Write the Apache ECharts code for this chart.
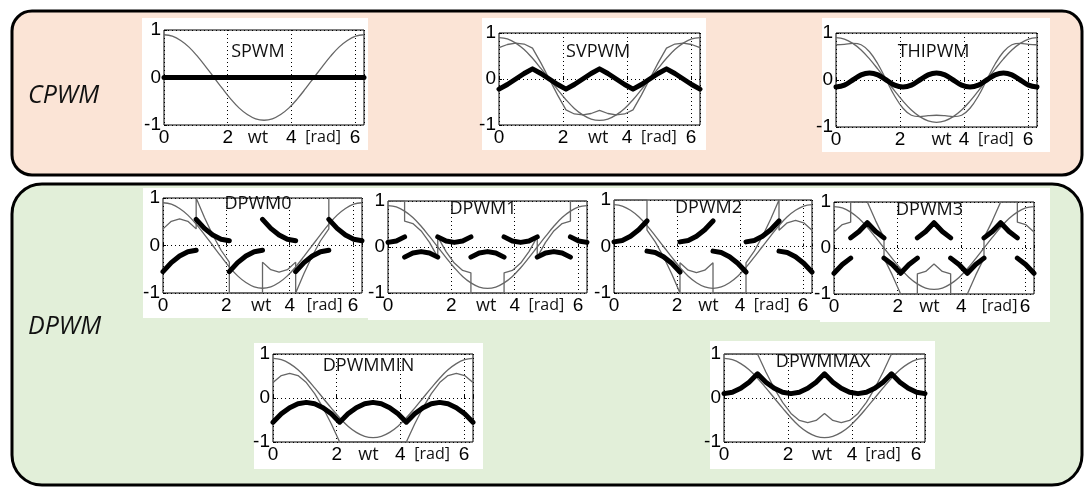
<!DOCTYPE html>
<html>
<head>
<meta charset="utf-8">
<script src="https://cdn.jsdelivr.net/npm/echarts@6/dist/echarts.min.js"></script>
<style>
  html, body { margin: 0; padding: 0; background: #fff; }
  #c { width: 1085px; height: 488px; }
</style>
</head>
<body>
<div id="c"></div>
<script>
// Electrical angle samples (rad), 15 degree steps over one period
const wt = [0, 0.262, 0.524, 0.785, 1.047, 1.309, 1.571, 1.833, 2.094, 2.356, 2.618, 2.880,
            3.142, 3.403, 3.665, 3.927, 4.189, 4.451, 4.712, 4.974, 5.236, 5.498, 5.760, 6.021, 6.283];

// Tick labels
const xTicks = [0, 2, 4, 6];
const yTicks = [-1, 0, 1];

// Phase reference va* (thin grey curve, same in every panel)
const phaseRef = [0.90, 0.87, 0.78, 0.64, 0.45, 0.23, 0, -0.23, -0.45, -0.64, -0.78, -0.87, -0.90,
                  -0.87, -0.78, -0.64, -0.45, -0.23, 0, 0.23, 0.45, 0.64, 0.78, 0.87, 0.90];

// A pair [a, b] marks a jump at that angle: a is reached from the left, b leaves to the right.

// SPWM: no zero-sequence signal
const spwmZero = [0, 0, 0, 0, 0, 0, 0, 0, 0, 0, 0, 0, 0, 0, 0, 0, 0, 0, 0, 0, 0, 0, 0, 0, 0];

// SVPWM
const svpwmZero = [-0.22, -0.12, 0, 0.12, 0.22, 0.12, 0, -0.12, -0.22, -0.12, 0, 0.12, 0.22,
                   0.12, 0, -0.12, -0.22, -0.12, 0, 0.12, 0.22, 0.12, 0, -0.12, -0.22];
const svpwmMod = [0.68, 0.75, 0.78, 0.76, 0.67, 0.35, 0, -0.35, -0.67, -0.76, -0.78, -0.75, -0.68,
                  -0.75, -0.78, -0.76, -0.67, -0.35, 0, 0.35, 0.67, 0.76, 0.78, 0.75, 0.68];

// THIPWM
const thiZero = [-0.15, -0.11, 0, 0.11, 0.15, 0.11, 0, -0.11, -0.15, -0.11, 0, 0.11, 0.15,
                 0.11, 0, -0.11, -0.15, -0.11, 0, 0.11, 0.15, 0.11, 0, -0.11, -0.15];
const thiMod = [0.75, 0.76, 0.78, 0.75, 0.60, 0.34, 0, -0.34, -0.60, -0.75, -0.78, -0.76, -0.75,
                -0.76, -0.78, -0.75, -0.60, -0.34, 0, 0.34, 0.60, 0.75, 0.78, 0.76, 0.75];

// DPWM0
const dpwm0Zero = [-0.55, -0.36, -0.22, -0.13, [-0.10, 0.55], 0.36, 0.22, 0.13, [0.10, -0.55], -0.36, -0.22, -0.13,
                   [-0.10, 0.55], 0.36, 0.22, 0.13, [0.10, -0.55], -0.36, -0.22, -0.13, [-0.10, 0.55], 0.36, 0.22, 0.13, 0.10];
const dpwm0Mod = [0.35, 0.51, 0.56, 0.51, [0.35, 1], 0.59, 0.22, -0.10, [-0.35, -1], -1, -1, -1,
                  [-1, -0.35], -0.51, -0.56, -0.51, [-0.35, -1], -0.59, -0.22, 0.10, [0.35, 1], 1, 1, 1, 1];

// DPWM1
const dpwm1Zero = [0.10, 0.13, [0.22, -0.22], -0.13, -0.10, -0.13, [-0.22, 0.22], 0.13, 0.10, 0.13, [0.22, -0.22], -0.13,
                   -0.10, -0.13, [-0.22, 0.22], 0.13, 0.10, 0.13, [0.22, -0.22], -0.13, -0.10, -0.13, [-0.22, 0.22], 0.13, 0.10];
const dpwm1Mod = [1, 1, [1, 0.56], 0.51, 0.35, 0.10, [-0.22, 0.22], -0.10, -0.35, -0.51, [-0.56, -1], -1,
                  -1, -1, [-1, -0.56], -0.51, -0.35, -0.10, [0.22, -0.22], 0.10, 0.35, 0.51, [0.56, 1], 1, 1];

// DPWM2
const dpwm2Zero = [0.10, 0.13, 0.22, 0.36, [0.55, -0.10], -0.13, -0.22, -0.36, [-0.55, 0.10], 0.13, 0.22, 0.36,
                   [0.55, -0.10], -0.13, -0.22, -0.36, [-0.55, 0.10], 0.13, 0.22, 0.36, [0.55, -0.10], -0.13, -0.22, -0.36, -0.55];
const dpwm2Mod = [1, 1, 1, 1, [1, 0.35], 0.10, -0.22, -0.59, [-1, -0.35], -0.51, -0.56, -0.51,
                  [-0.35, -1], -1, -1, -1, [-1, -0.35], -0.10, 0.22, 0.59, [1, 0.35], 0.51, 0.56, 0.51, 0.35];

// DPWM3
const dpwm3Zero = [-0.55, -0.36, [-0.22, 0.22], 0.36, 0.55, 0.36, [0.22, -0.22], -0.36, -0.55, -0.36, [-0.22, 0.22], 0.36,
                   0.55, 0.36, [0.22, -0.22], -0.36, -0.55, -0.36, [-0.22, 0.22], 0.36, 0.55, 0.36, [0.22, -0.22], -0.36, -0.55];
const dpwm3Mod = [0.35, 0.51, [0.56, 1], 1, 1, 0.59, [0.22, -0.22], -0.59, -1, -1, [-1, -0.56], -0.51,
                  -0.35, -0.51, [-0.56, -1], -1, -1, -0.59, [-0.22, 0.22], 0.59, 1, 1, [1, 0.56], 0.51, 0.35];

// DPWMMIN
const dpwmMinZero = [-0.55, -0.36, -0.22, -0.13, -0.10, -0.13, -0.22, -0.36, -0.55, -0.36, -0.22, -0.13, -0.10,
                     -0.13, -0.22, -0.36, -0.55, -0.36, -0.22, -0.13, -0.10, -0.13, -0.22, -0.36, -0.55];
const dpwmMinMod = [0.35, 0.51, 0.56, 0.51, 0.35, 0.10, -0.22, -0.59, -1, -1, -1, -1, -1,
                    -1, -1, -1, -1, -0.59, -0.22, 0.10, 0.35, 0.51, 0.56, 0.51, 0.35];

// DPWMMAX
const dpwmMaxZero = [0.10, 0.13, 0.22, 0.36, 0.55, 0.36, 0.22, 0.13, 0.10, 0.13, 0.22, 0.36, 0.55,
                     0.36, 0.22, 0.13, 0.10, 0.13, 0.22, 0.36, 0.55, 0.36, 0.22, 0.13, 0.10];
const dpwmMaxMod = [1, 1, 1, 1, 1, 0.59, 0.22, -0.10, -0.35, -0.51, -0.56, -0.51, -0.35,
                    -0.51, -0.56, -0.51, -0.35, -0.10, 0.22, 0.59, 1, 1, 1, 1, 1];

// ---- layout ----
const TAU = 6.2832;
const GRAY = '#666666';
const TICK_FONT = "'Liberation Sans Narrow', 'Liberation Sans', Arial, sans-serif";
const TEXT_FONT = "'Open Sans', 'Noto Sans', sans-serif";

const panels = [
  { title: 'SPWM',    grid: [164, 30, 200, 95],  bg: [142, 18, 226, 132],  titleAt: [2.95, 0.53], wtAt: 2.95, radAt: 5.0, mod: null,        zero: spwmZero,    smooth: false },
  { title: 'SVPWM',   grid: [499, 33, 201, 92],  bg: [482, 18, 224, 132],  titleAt: [3.1, 0.60],  wtAt: 3.1, radAt: 5.0,  mod: svpwmMod,    zero: svpwmZero,   smooth: false },
  { title: 'THIPWM',  grid: [836, 33, 201, 94],  bg: [822, 18, 228, 134],  titleAt: [3.05, 0.59], wtAt: 3.3, radAt: 5.0,  mod: thiMod,      zero: thiZero,     smooth: true },
  { title: 'DPWM0',   grid: [163, 198, 199, 95], bg: [143, 188, 226, 130], titleAt: [3.0, 0.87],  wtAt: 3.1, radAt: 5.1,  mod: dpwm0Mod,    zero: dpwm0Zero,   smooth: false },
  { title: 'DPWM1',   grid: [388, 201, 199, 92], bg: [368, 188, 229, 132], titleAt: [3.0, 0.83],  wtAt: 3.1, radAt: 5.0,  mod: dpwm1Mod,    zero: dpwm1Zero,   smooth: false },
  { title: 'DPWM2',   grid: [614, 200, 198, 93], bg: [597, 188, 225, 132], titleAt: [3.0, 0.83],  wtAt: 3.0, radAt: 5.0,  mod: dpwm2Mod,    zero: dpwm2Zero,   smooth: false },
  { title: 'DPWM3',   grid: [834, 202, 200, 92], bg: [820, 188, 230, 134], titleAt: [3.0, 0.83],  wtAt: 3.0, radAt: 5.2,  mod: dpwm3Mod,    zero: dpwm3Zero,   smooth: false },
  { title: 'DPWMMIN', grid: [273, 354, 200, 88], bg: [254, 343, 229, 126], titleAt: [3.0, 0.72],  wtAt: 3.0, radAt: 5.0,  mod: dpwmMinMod,  zero: dpwmMinZero, smooth: false },
  { title: 'DPWMMAX', grid: [724, 354, 201, 88], bg: [710, 341, 225, 128], titleAt: [3.1, 0.82],  wtAt: 3.06, radAt: 4.97, mod: dpwmMaxMod, zero: dpwmMaxZero, smooth: false }
];

// Turn a value list into [x, y] points; jumps are either joined by a vertical
// stroke or left open as a gap in the line.
function toPoints(vals, joinJumps) {
  const pts = [];
  vals.forEach((v, i) => {
    const x = wt[i];
    if (Array.isArray(v)) {
      pts.push([x, v[0]]);
      if (!joinJumps) pts.push([x, '-']);
      pts.push([x, v[1]]);
    } else {
      pts.push([x, v]);
    }
  });
  return pts;
}

const grids = [], xAxes = [], yAxes = [], series = [], graphics = [];

// section frames
graphics.push({
  type: 'rect', z: -100,
  shape: { x: 12, y: 11, width: 1070, height: 164, r: 20 },
  style: { fill: '#fbe4d6', stroke: '#000', lineWidth: 3 }
});
graphics.push({
  type: 'rect', z: -100,
  shape: { x: 12, y: 184, width: 1070, height: 301, r: 30 },
  style: { fill: '#e2efd9', stroke: '#000', lineWidth: 3 }
});
graphics.push({
  type: 'text', z: 100, x: 28, y: 96,
  style: { text: 'CPWM', font: 'italic 25px ' + TEXT_FONT, fill: '#111', textAlign: 'left', textVerticalAlign: 'middle' }
});
graphics.push({
  type: 'text', z: 100, x: 28, y: 327,
  style: { text: 'DPWM', font: 'italic 25px ' + TEXT_FONT, fill: '#111', textAlign: 'left', textVerticalAlign: 'middle' }
});

const lineBase = { type: 'line', symbol: 'none', showSymbol: false, silent: true, animation: false, connectNulls: false };

panels.forEach((p, i) => {
  const [gl, gt, gw, gh] = p.grid;
  const px = x => gl + x / TAU * gw;
  const py = y => gt + (1 - y) / 2 * gh;

  graphics.push({
    type: 'rect', z: -50,
    shape: { x: p.bg[0], y: p.bg[1], width: p.bg[2], height: p.bg[3] },
    style: { fill: '#fff' }
  });

  grids.push({
    left: gl, top: gt, width: gw, height: gh,
    show: true, backgroundColor: '#fff', borderColor: '#000', borderWidth: 1
  });

  const dotted = { show: true, lineStyle: { color: '#000', width: 1, type: [1, 3] } };
  xAxes.push({
    gridIndex: i, type: 'value', min: 0, max: TAU, interval: 2,
    axisLine: { show: false },
    axisTick: { show: true, inside: true, length: 3, lineStyle: { color: '#000' } },
    axisLabel: {
      margin: 3, color: '#000', fontSize: 19, fontFamily: TICK_FONT,
      formatter: v => (xTicks.indexOf(v) >= 0 ? String(v) : '')
    },
    splitLine: dotted
  });
  yAxes.push({
    gridIndex: i, type: 'value', min: -1, max: 1, interval: 1,
    axisLine: { show: false },
    axisTick: { show: true, inside: true, length: 3, lineStyle: { color: '#000' } },
    axisLabel: {
      margin: 3, color: '#000', fontSize: 19, fontFamily: TICK_FONT,
      formatter: v => (yTicks.indexOf(v) >= 0 ? String(v) : '')
    },
    splitLine: dotted
  });

  series.push(Object.assign({}, lineBase, {
    xAxisIndex: i, yAxisIndex: i, z: 3, smooth: 0.4,
    data: toPoints(phaseRef, true),
    lineStyle: { color: GRAY, width: 1.3 }
  }));
  if (p.mod) {
    series.push(Object.assign({}, lineBase, {
      xAxisIndex: i, yAxisIndex: i, z: 3, smooth: p.smooth ? 0.4 : false,
      data: toPoints(p.mod, true),
      lineStyle: { color: GRAY, width: 1.3 }
    }));
  }
  series.push(Object.assign({}, lineBase, {
    xAxisIndex: i, yAxisIndex: i, z: 5, smooth: p.smooth ? 0.4 : false,
    data: toPoints(p.zero, false),
    lineStyle: { color: '#000', width: 5, cap: 'round', join: 'round' }
  }));

  graphics.push({
    type: 'text', z: 100, x: px(p.titleAt[0]), y: py(p.titleAt[1]),
    style: { text: p.title, font: '18px ' + TEXT_FONT, fill: '#111', textAlign: 'center', textVerticalAlign: 'middle' }
  });
  graphics.push({
    type: 'text', z: 100, x: px(p.wtAt), y: gt + gh + 13,
    style: { text: 'wt', font: '18px ' + TEXT_FONT, fill: '#111', textAlign: 'center', textVerticalAlign: 'middle' }
  });
  graphics.push({
    type: 'text', z: 100, x: px(p.radAt), y: gt + gh + 12,
    style: { text: '[rad]', font: '16px ' + TEXT_FONT, fill: '#111', textAlign: 'center', textVerticalAlign: 'middle' }
  });
});

const chart = echarts.init(document.getElementById('c'), null, { renderer: 'canvas', width: 1085, height: 488 });
chart.setOption({
  backgroundColor: '#fff',
  animation: false,
  grid: grids,
  xAxis: xAxes,
  yAxis: yAxes,
  series: series,
  graphic: { elements: graphics }
});
</script>
</body>
</html>
